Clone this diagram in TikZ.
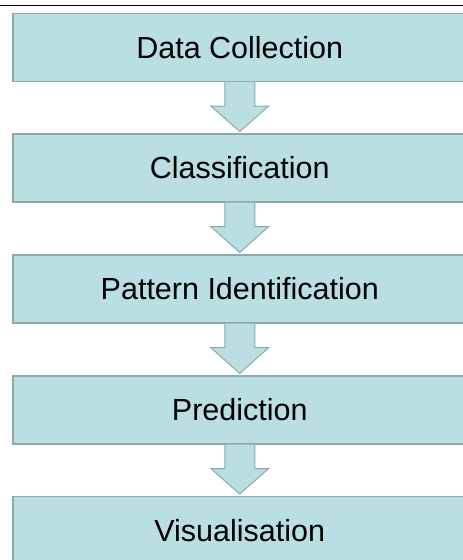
\documentclass[tikz,border=0pt]{standalone}
\usepackage{fontspec}
\setmainfont{Liberation Sans}
\usetikzlibrary{calc}
\definecolor{boxfill}{HTML}{B9DFE3}
\definecolor{boxline}{HTML}{8EA9AC}
\tikzset{
  stagebox/.style={draw=boxline, line width=1.5pt, fill=boxfill, minimum width=454pt, minimum height=68pt, inner sep=0pt, font=\fontsize{30.5}{36}\selectfont, anchor=north west},
  flowarrow/.style={draw=boxline, line width=1pt, fill=boxfill, line join=miter}
}
\newcommand{\flowdown}[2]{%
  \draw[flowarrow] ($(#1.south)+(-15pt,0)$) -- ($(#1.south)+(-15pt,-24pt)$) -- ($(#1.south)+(-29pt,-24pt)$)
    -- ($(#2.north)+(0,1.5pt)$) -- ($(#1.south)+(29pt,-24pt)$) -- ($(#1.south)+(15pt,-24pt)$) -- ($(#1.south)+(15pt,0)$);}
\begin{document}
\begin{tikzpicture}[x=1pt,y=-1pt]
\useasboundingbox (0,0) rectangle (463,560);
\clip (0,0) rectangle (463,560);
\coordinate (tl) at (0,5);
\coordinate (tr) at (463,5);
\draw[black, line width=1pt] (tl) -- (tr);
\node[stagebox] (b1) at (12,12.5) {Data Collection};
\node[stagebox] (b2) at (12,133) {Classification};
\node[stagebox] (b3) at (12,254) {Pattern Identification};
\node[stagebox] (b4) at (12,375) {Prediction};
\node[stagebox] (b5) at (12,495.5) {Visualisation};
\flowdown{b1}{b2}
\flowdown{b2}{b3}
\flowdown{b3}{b4}
\flowdown{b4}{b5}
\end{tikzpicture}
\end{document}
